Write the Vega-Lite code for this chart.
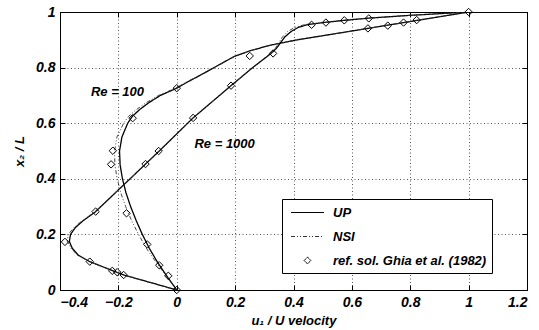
{
  "$schema": "https://vega.github.io/schema/vega-lite/v6.json",
  "autosize": {"type": "none"},
  "padding": {"left": 60, "top": 12, "right": 12, "bottom": 40},
  "width": 467,
  "height": 278,
  "background": "white",
  "datasets": {
    "curves": [
      {"Re": "100", "series": "UP", "u": 0, "y": 0},
      {"Re": "100", "series": "UP", "u": -0.017, "y": 0.025},
      {"Re": "100", "series": "UP", "u": -0.034, "y": 0.05},
      {"Re": "100", "series": "UP", "u": -0.05, "y": 0.075},
      {"Re": "100", "series": "UP", "u": -0.066, "y": 0.1},
      {"Re": "100", "series": "UP", "u": -0.094, "y": 0.15},
      {"Re": "100", "series": "UP", "u": -0.118, "y": 0.2},
      {"Re": "100", "series": "UP", "u": -0.139, "y": 0.25},
      {"Re": "100", "series": "UP", "u": -0.158, "y": 0.3},
      {"Re": "100", "series": "UP", "u": -0.174, "y": 0.35},
      {"Re": "100", "series": "UP", "u": -0.186, "y": 0.4},
      {"Re": "100", "series": "UP", "u": -0.194, "y": 0.45},
      {"Re": "100", "series": "UP", "u": -0.196, "y": 0.5},
      {"Re": "100", "series": "UP", "u": -0.188, "y": 0.55},
      {"Re": "100", "series": "UP", "u": -0.168, "y": 0.6},
      {"Re": "100", "series": "UP", "u": -0.152, "y": 0.625},
      {"Re": "100", "series": "UP", "u": -0.126, "y": 0.65},
      {"Re": "100", "series": "UP", "u": -0.094, "y": 0.675},
      {"Re": "100", "series": "UP", "u": -0.056, "y": 0.7},
      {"Re": "100", "series": "UP", "u": 0, "y": 0.726},
      {"Re": "100", "series": "UP", "u": 0.04, "y": 0.75},
      {"Re": "100", "series": "UP", "u": 0.085, "y": 0.775},
      {"Re": "100", "series": "UP", "u": 0.128, "y": 0.8},
      {"Re": "100", "series": "UP", "u": 0.162, "y": 0.82},
      {"Re": "100", "series": "UP", "u": 0.197, "y": 0.84},
      {"Re": "100", "series": "UP", "u": 0.25, "y": 0.86},
      {"Re": "100", "series": "UP", "u": 0.318, "y": 0.88},
      {"Re": "100", "series": "UP", "u": 0.413, "y": 0.9},
      {"Re": "100", "series": "UP", "u": 0.532, "y": 0.92},
      {"Re": "100", "series": "UP", "u": 0.649, "y": 0.94},
      {"Re": "100", "series": "UP", "u": 0.766, "y": 0.96},
      {"Re": "100", "series": "UP", "u": 0.883, "y": 0.98},
      {"Re": "100", "series": "UP", "u": 1, "y": 1},

      {"Re": "100", "series": "NSI", "u": 0, "y": 0},
      {"Re": "100", "series": "NSI", "u": -0.036, "y": 0.05},
      {"Re": "100", "series": "NSI", "u": -0.071, "y": 0.1},
      {"Re": "100", "series": "NSI", "u": -0.104, "y": 0.15},
      {"Re": "100", "series": "NSI", "u": -0.131, "y": 0.2},
      {"Re": "100", "series": "NSI", "u": -0.155, "y": 0.25},
      {"Re": "100", "series": "NSI", "u": -0.175, "y": 0.3},
      {"Re": "100", "series": "NSI", "u": -0.192, "y": 0.35},
      {"Re": "100", "series": "NSI", "u": -0.204, "y": 0.4},
      {"Re": "100", "series": "NSI", "u": -0.212, "y": 0.45},
      {"Re": "100", "series": "NSI", "u": -0.213, "y": 0.5},
      {"Re": "100", "series": "NSI", "u": -0.205, "y": 0.55},
      {"Re": "100", "series": "NSI", "u": -0.182, "y": 0.6},
      {"Re": "100", "series": "NSI", "u": -0.165, "y": 0.625},
      {"Re": "100", "series": "NSI", "u": -0.137, "y": 0.65},
      {"Re": "100", "series": "NSI", "u": -0.103, "y": 0.675},
      {"Re": "100", "series": "NSI", "u": -0.062, "y": 0.7},
      {"Re": "100", "series": "NSI", "u": -0.004, "y": 0.726},
      {"Re": "100", "series": "NSI", "u": 0.037, "y": 0.75},
      {"Re": "100", "series": "NSI", "u": 0.083, "y": 0.775},
      {"Re": "100", "series": "NSI", "u": 0.127, "y": 0.8},
      {"Re": "100", "series": "NSI", "u": 0.162, "y": 0.82},
      {"Re": "100", "series": "NSI", "u": 0.197, "y": 0.84},
      {"Re": "100", "series": "NSI", "u": 0.25, "y": 0.86},
      {"Re": "100", "series": "NSI", "u": 0.318, "y": 0.88},
      {"Re": "100", "series": "NSI", "u": 0.413, "y": 0.9},
      {"Re": "100", "series": "NSI", "u": 0.532, "y": 0.92},
      {"Re": "100", "series": "NSI", "u": 0.649, "y": 0.94},
      {"Re": "100", "series": "NSI", "u": 0.766, "y": 0.96},
      {"Re": "100", "series": "NSI", "u": 0.883, "y": 0.98},
      {"Re": "100", "series": "NSI", "u": 1, "y": 1},

      {"Re": "1000", "series": "UP", "u": 0, "y": 0},
      {"Re": "1000", "series": "UP", "u": -0.09, "y": 0.027},
      {"Re": "1000", "series": "UP", "u": -0.182, "y": 0.054},
      {"Re": "1000", "series": "UP", "u": -0.24, "y": 0.078},
      {"Re": "1000", "series": "UP", "u": -0.298, "y": 0.102},
      {"Re": "1000", "series": "UP", "u": -0.337, "y": 0.125},
      {"Re": "1000", "series": "UP", "u": -0.358, "y": 0.15},
      {"Re": "1000", "series": "UP", "u": -0.368, "y": 0.175},
      {"Re": "1000", "series": "UP", "u": -0.364, "y": 0.2},
      {"Re": "1000", "series": "UP", "u": -0.347, "y": 0.225},
      {"Re": "1000", "series": "UP", "u": -0.32, "y": 0.25},
      {"Re": "1000", "series": "UP", "u": -0.28, "y": 0.28},
      {"Re": "1000", "series": "UP", "u": -0.23, "y": 0.33},
      {"Re": "1000", "series": "UP", "u": -0.18, "y": 0.38},
      {"Re": "1000", "series": "UP", "u": -0.107, "y": 0.453},
      {"Re": "1000", "series": "UP", "u": -0.06, "y": 0.5},
      {"Re": "1000", "series": "UP", "u": 0.056, "y": 0.619},
      {"Re": "1000", "series": "UP", "u": 0.186, "y": 0.735},
      {"Re": "1000", "series": "UP", "u": 0.26, "y": 0.8},
      {"Re": "1000", "series": "UP", "u": 0.322, "y": 0.85},
      {"Re": "1000", "series": "UP", "u": 0.342, "y": 0.87},
      {"Re": "1000", "series": "UP", "u": 0.356, "y": 0.89},
      {"Re": "1000", "series": "UP", "u": 0.37, "y": 0.91},
      {"Re": "1000", "series": "UP", "u": 0.392, "y": 0.93},
      {"Re": "1000", "series": "UP", "u": 0.417, "y": 0.945},
      {"Re": "1000", "series": "UP", "u": 0.45, "y": 0.955},
      {"Re": "1000", "series": "UP", "u": 0.511, "y": 0.963},
      {"Re": "1000", "series": "UP", "u": 0.574, "y": 0.97},
      {"Re": "1000", "series": "UP", "u": 0.658, "y": 0.978},
      {"Re": "1000", "series": "UP", "u": 0.8, "y": 0.988},
      {"Re": "1000", "series": "UP", "u": 1, "y": 1},

      {"Re": "1000", "series": "NSI", "u": 0, "y": 0},
      {"Re": "1000", "series": "NSI", "u": -0.09, "y": 0.027},
      {"Re": "1000", "series": "NSI", "u": -0.182, "y": 0.054},
      {"Re": "1000", "series": "NSI", "u": -0.24, "y": 0.078},
      {"Re": "1000", "series": "NSI", "u": -0.298, "y": 0.102},
      {"Re": "1000", "series": "NSI", "u": -0.34, "y": 0.125},
      {"Re": "1000", "series": "NSI", "u": -0.362, "y": 0.15},
      {"Re": "1000", "series": "NSI", "u": -0.375, "y": 0.175},
      {"Re": "1000", "series": "NSI", "u": -0.372, "y": 0.2},
      {"Re": "1000", "series": "NSI", "u": -0.352, "y": 0.225},
      {"Re": "1000", "series": "NSI", "u": -0.323, "y": 0.25},
      {"Re": "1000", "series": "NSI", "u": -0.282, "y": 0.28},
      {"Re": "1000", "series": "NSI", "u": -0.231, "y": 0.33},
      {"Re": "1000", "series": "NSI", "u": -0.18, "y": 0.38},
      {"Re": "1000", "series": "NSI", "u": -0.107, "y": 0.453},
      {"Re": "1000", "series": "NSI", "u": -0.06, "y": 0.5},
      {"Re": "1000", "series": "NSI", "u": 0.056, "y": 0.619},
      {"Re": "1000", "series": "NSI", "u": 0.186, "y": 0.735},
      {"Re": "1000", "series": "NSI", "u": 0.26, "y": 0.8},
      {"Re": "1000", "series": "NSI", "u": 0.32, "y": 0.85},
      {"Re": "1000", "series": "NSI", "u": 0.338, "y": 0.87},
      {"Re": "1000", "series": "NSI", "u": 0.35, "y": 0.89},
      {"Re": "1000", "series": "NSI", "u": 0.362, "y": 0.91},
      {"Re": "1000", "series": "NSI", "u": 0.38, "y": 0.93},
      {"Re": "1000", "series": "NSI", "u": 0.405, "y": 0.945},
      {"Re": "1000", "series": "NSI", "u": 0.44, "y": 0.955},
      {"Re": "1000", "series": "NSI", "u": 0.511, "y": 0.963},
      {"Re": "1000", "series": "NSI", "u": 0.574, "y": 0.97},
      {"Re": "1000", "series": "NSI", "u": 0.658, "y": 0.978},
      {"Re": "1000", "series": "NSI", "u": 0.8, "y": 0.988},
      {"Re": "1000", "series": "NSI", "u": 1, "y": 1}
    ],
    "ghia": [
      {"Re": "100", "series": "ref. sol. Ghia et al. (1982)", "u": 1, "y": 1},
      {"Re": "100", "series": "ref. sol. Ghia et al. (1982)", "u": 0.822, "y": 0.971},
      {"Re": "100", "series": "ref. sol. Ghia et al. (1982)", "u": 0.777, "y": 0.962},
      {"Re": "100", "series": "ref. sol. Ghia et al. (1982)", "u": 0.723, "y": 0.951},
      {"Re": "100", "series": "ref. sol. Ghia et al. (1982)", "u": 0.655, "y": 0.941},
      {"Re": "100", "series": "ref. sol. Ghia et al. (1982)", "u": 0.25, "y": 0.842},
      {"Re": "100", "series": "ref. sol. Ghia et al. (1982)", "u": 0.0, "y": 0.726},
      {"Re": "100", "series": "ref. sol. Ghia et al. (1982)", "u": -0.151, "y": 0.618},
      {"Re": "100", "series": "ref. sol. Ghia et al. (1982)", "u": -0.219, "y": 0.501},
      {"Re": "100", "series": "ref. sol. Ghia et al. (1982)", "u": -0.225, "y": 0.452},
      {"Re": "100", "series": "ref. sol. Ghia et al. (1982)", "u": -0.172, "y": 0.276},
      {"Re": "100", "series": "ref. sol. Ghia et al. (1982)", "u": -0.101, "y": 0.164},
      {"Re": "100", "series": "ref. sol. Ghia et al. (1982)", "u": -0.06, "y": 0.089},
      {"Re": "100", "series": "ref. sol. Ghia et al. (1982)", "u": -0.029, "y": 0.051},
      {"Re": "100", "series": "ref. sol. Ghia et al. (1982)", "u": 0, "y": 0},
      {"Re": "1000", "series": "ref. sol. Ghia et al. (1982)", "u": 0.658, "y": 0.977},
      {"Re": "1000", "series": "ref. sol. Ghia et al. (1982)", "u": 0.574, "y": 0.97},
      {"Re": "1000", "series": "ref. sol. Ghia et al. (1982)", "u": 0.511, "y": 0.962},
      {"Re": "1000", "series": "ref. sol. Ghia et al. (1982)", "u": 0.462, "y": 0.954},
      {"Re": "1000", "series": "ref. sol. Ghia et al. (1982)", "u": 0.33, "y": 0.851},
      {"Re": "1000", "series": "ref. sol. Ghia et al. (1982)", "u": 0.186, "y": 0.735},
      {"Re": "1000", "series": "ref. sol. Ghia et al. (1982)", "u": 0.056, "y": 0.619},
      {"Re": "1000", "series": "ref. sol. Ghia et al. (1982)", "u": -0.062, "y": 0.5},
      {"Re": "1000", "series": "ref. sol. Ghia et al. (1982)", "u": -0.107, "y": 0.453},
      {"Re": "1000", "series": "ref. sol. Ghia et al. (1982)", "u": -0.278, "y": 0.282},
      {"Re": "1000", "series": "ref. sol. Ghia et al. (1982)", "u": -0.383, "y": 0.173},
      {"Re": "1000", "series": "ref. sol. Ghia et al. (1982)", "u": -0.298, "y": 0.102},
      {"Re": "1000", "series": "ref. sol. Ghia et al. (1982)", "u": -0.221, "y": 0.069},
      {"Re": "1000", "series": "ref. sol. Ghia et al. (1982)", "u": -0.204, "y": 0.064},
      {"Re": "1000", "series": "ref. sol. Ghia et al. (1982)", "u": -0.182, "y": 0.054}
    ],
    "labels": [
      {"text": "Re = 100", "u": -0.203, "y": 0.712},
      {"text": "Re = 1000", "u": 0.164, "y": 0.525}
    ]
  },
  "layer": [
    {
      "data": {"name": "curves"},
      "mark": {"type": "line", "clip": true},
      "encoding": {
        "x": {
          "field": "u", "type": "quantitative",
          "scale": {"domain": [-0.4, 1.2], "nice": false, "zero": false},
          "axis": {"orient": "bottom", "values": [-0.4, -0.2, 0, 0.2, 0.4, 0.6, 0.8, 1, 1.2], "format": "~g", "grid": true, "tickSize": -5, "labelPadding": 10, "title": "u₁ / U velocity", "titlePadding": 5}
        },
        "y": {
          "field": "y", "type": "quantitative",
          "scale": {"domain": [0, 1], "nice": false, "zero": false},
          "axis": {"orient": "left", "values": [0, 0.2, 0.4, 0.6, 0.8, 1], "format": "~g", "grid": true, "tickSize": -5, "labelPadding": 10, "title": "x₂ / L", "titlePadding": 9}
        },
        "detail": {"field": "Re"},
        "order": {"field": "y", "type": "quantitative"},
        "color": {
          "field": "series", "type": "nominal",
          "scale": {"domain": ["UP", "NSI", "ref. sol. Ghia et al. (1982)"], "range": ["#000000", "#333333", "#000000"]},
          "legend": {
            "orient": "none", "legendX": 222, "legendY": 187, "title": null,
            "padding": 5, "symbolOffset": 12, "labelOffset": 17, "rowPadding": 8,
            "symbolSize": 256, "strokeColor": "black", "fillColor": "white",
            "labelFont": "Liberation Sans", "labelFontSize": 13, "labelFontStyle": "italic", "labelFontWeight": "bold", "labelColor": "black", "labelLimit": 300,
            "encode": {
              "symbols": {
                "update": {
                  "shape": {"signal": "datum.value === 'ref. sol. Ghia et al. (1982)' ? 'diamond' : 'M-2.06,0H2.06'"},
                  "size": {"signal": "datum.value === 'ref. sol. Ghia et al. (1982)' ? 45 : 256"},
                  "strokeDash": {"signal": "datum.value === 'NSI' ? [4,2,1,2,1,2] : [1,0]"},
                  "stroke": {"value": "black"},
                  "fill": {"value": "transparent"},
                  "strokeWidth": {"value": 1},
                  "opacity": {"value": 1}
                }
              }
            }
          }
        },
        "strokeDash": {
          "field": "series", "type": "nominal",
          "scale": {"domain": ["UP", "NSI"], "range": [[1, 0], [4, 2, 1, 2, 1, 2]]},
          "legend": null
        },
        "strokeWidth": {
          "field": "series", "type": "nominal",
          "scale": {"domain": ["UP", "NSI"], "range": [1.3, 0.9]},
          "legend": null
        }
      }
    },
    {
      "data": {"name": "ghia"},
      "mark": {"type": "point", "shape": "diamond", "filled": false, "size": 55, "strokeWidth": 1, "opacity": 1},
      "encoding": {
        "x": {"field": "u", "type": "quantitative", "axis": {"orient": "top", "labels": false, "grid": false, "tickSize": -5, "title": null, "values": [-0.4, -0.2, 0, 0.2, 0.4, 0.6, 0.8, 1, 1.2]}},
        "y": {"field": "y", "type": "quantitative", "axis": {"orient": "right", "labels": false, "grid": false, "tickSize": -5, "title": null, "values": [0, 0.2, 0.4, 0.6, 0.8, 1]}},
        "color": {"field": "series", "type": "nominal"}
      }
    },
    {
      "data": {"name": "labels"},
      "mark": {"type": "text", "font": "Liberation Sans", "fontSize": 13, "fontStyle": "italic", "fontWeight": "bold", "color": "black", "align": "center", "baseline": "middle"},
      "encoding": {
        "x": {"field": "u", "type": "quantitative", "axis": null},
        "y": {"field": "y", "type": "quantitative", "axis": null},
        "text": {"field": "text"}
      }
    }
  ],
  "resolve": {"axis": {"x": "independent", "y": "independent"}},
  "config": {
    "font": "Liberation Sans",
    "view": {"stroke": "black", "strokeWidth": 1},
    "axis": {
      "labelFont": "Liberation Sans", "labelFontSize": 14, "labelFontStyle": "italic", "labelFontWeight": "bold", "labelColor": "black",
      "titleFont": "Liberation Sans", "titleFontSize": 13, "titleFontStyle": "italic", "titleFontWeight": "bold", "titleColor": "black",
      "domainColor": "black", "tickColor": "black", "gridColor": "#444444", "gridDash": [1, 2.5], "gridOpacity": 0.9
    }
  }
}
